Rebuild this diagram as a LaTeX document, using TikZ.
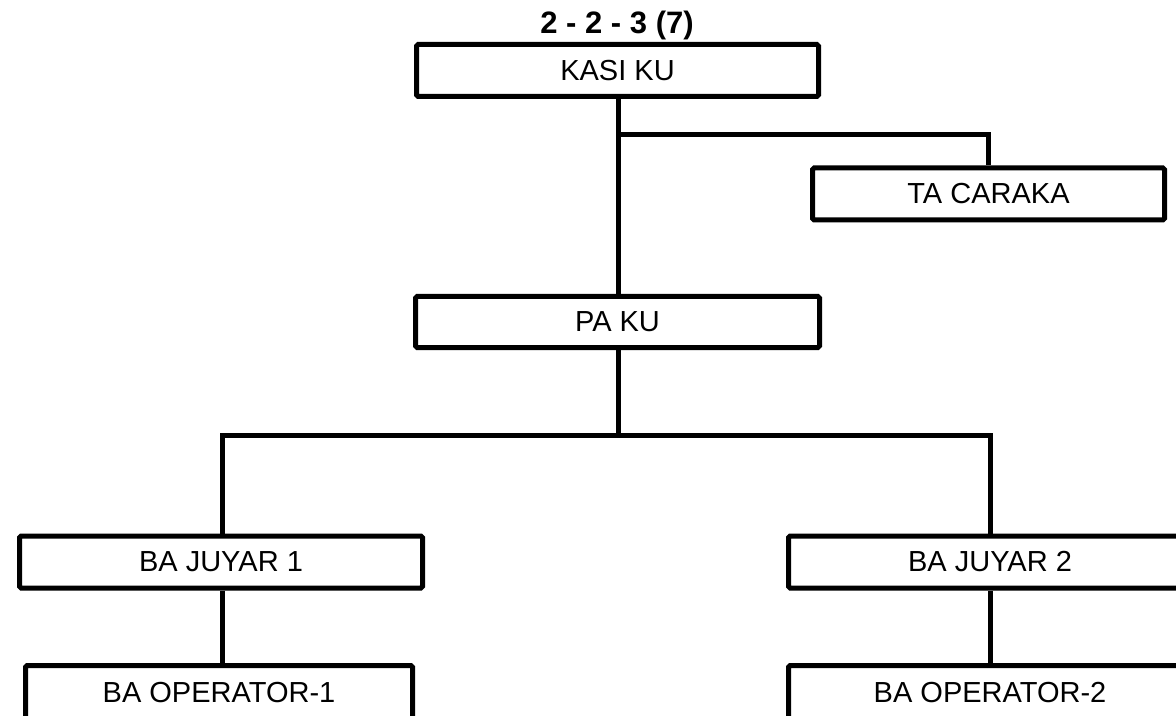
\documentclass[tikz,border=0pt]{standalone}
\usepackage{fontspec}
\setmainfont{Liberation Sans}
\usetikzlibrary{calc}

\begin{document}
\begin{tikzpicture}[x=0.5pt,y=-0.5pt,
    unit/.style={draw, line width=2.5pt, rounded corners=0.8pt, inner sep=0pt,
      minimum height=26pt, font=\fontsize{14.5}{16}\selectfont},
    link/.style={line width=2.5pt}]

    \useasboundingbox (0,0) rectangle (1176,716);

    \node (title) [anchor=base, font=\fontsize{15.5}{18}\selectfont\bfseries] at (617,34) {2 - 2 - 3 (7)};
    \node (kasi) [unit, minimum width=201pt] at (617.5,70.5) {KASI KU};
    \node (caraka) [unit, minimum width=176pt] at (988.5,194) {TA CARAKA};
    \node (paku) [unit, minimum width=202pt, minimum height=25.5pt] at (617.5,322) {PA KU};
    \node (juyar1) [unit, minimum width=201.5pt] at (221,562) {BA JUYAR 1};
    \node (juyar2) [unit, minimum width=201.5pt] at (990,562) {BA JUYAR 2};
    \node (op1) [unit, minimum width=193.5pt, minimum height=27.5pt] at (219,693) {BA OPERATOR-1};
    \node (op2) [unit, minimum width=201.5pt, minimum height=27.5pt] at (990,693) {BA OPERATOR-2};

    \coordinate (fork) at (618,135);
    \coordinate (split) at (618,435);

    \draw[link] (kasi.south -| fork) -- (paku.north -| fork);
    \draw[link] (fork) -| (caraka.north);
    \draw[link] (paku.south -| split) -- (split);
    \draw[link] (juyar1.north -| 222,0) |- (split) -| (juyar2.north);
    \draw[link] (juyar1.south -| 222,0) -- (op1.north -| 222,0);
    \draw[link] (juyar2.south) -- (op2.north);

\end{tikzpicture}
\end{document}
